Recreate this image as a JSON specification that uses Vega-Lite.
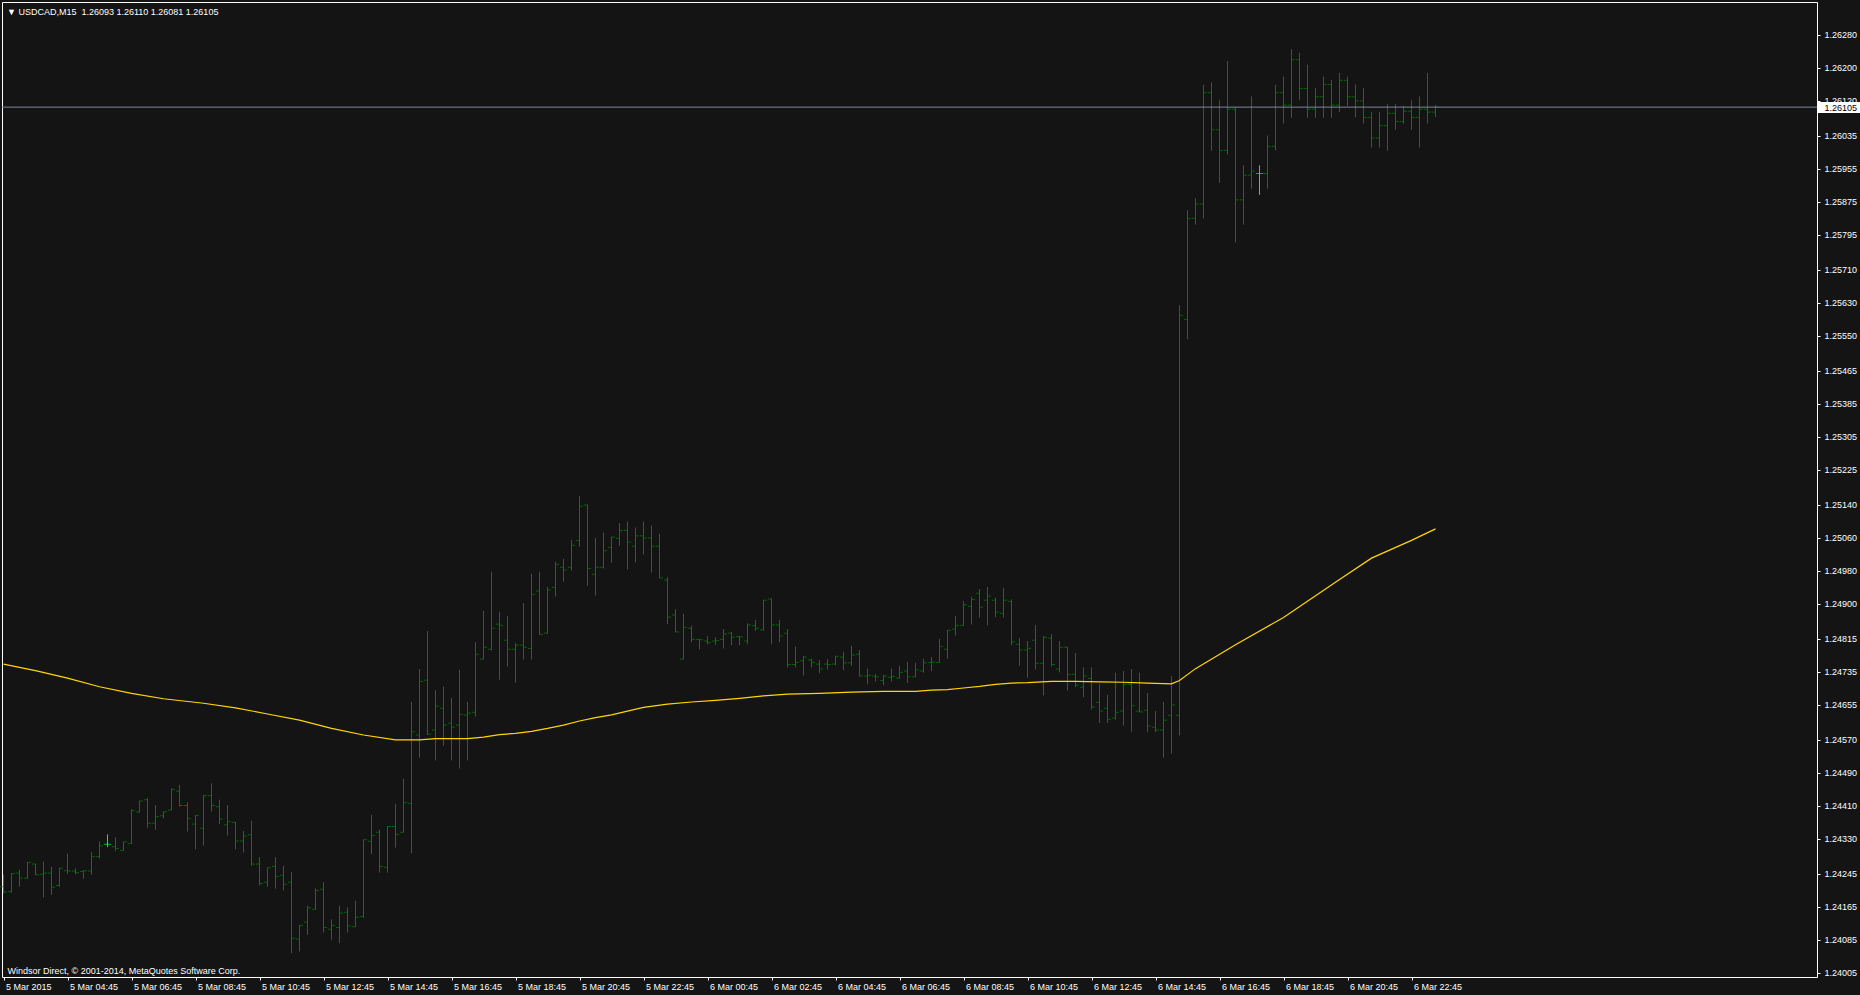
{
  "$schema": "https://vega.github.io/schema/vega-lite/v6.json",
  "width": 1815,
  "height": 975,
  "autosize": {"type": "none"},
  "padding": {"left": 2, "top": 2, "right": 43, "bottom": 18},
  "background": "#141414",
  "title": {
    "text": "▼ USDCAD,M15 \u00a01.26093 1.26110 1.26081 1.26105",
    "anchor": "start",
    "frame": "group",
    "orient": "top",
    "offset": 0,
    "baseline": "middle",
    "dx": 5,
    "dy": 19,
    "fontSize": 9,
    "fontWeight": "normal",
    "color": "#ffffff",
    "font": "Liberation Sans"
  },
  "datasets": {
    "price": [{"price": 1.26105}],
    "ma": [
      {"t": "2015-03-05T02:45:00Z", "ma": 1.24754},
      {"t": "2015-03-05T03:45:00Z", "ma": 1.24738},
      {"t": "2015-03-05T04:45:00Z", "ma": 1.24720},
      {"t": "2015-03-05T05:45:00Z", "ma": 1.24699},
      {"t": "2015-03-05T06:45:00Z", "ma": 1.24683},
      {"t": "2015-03-05T07:45:00Z", "ma": 1.24670},
      {"t": "2015-03-05T09:00:00Z", "ma": 1.24659},
      {"t": "2015-03-05T10:00:00Z", "ma": 1.24648},
      {"t": "2015-03-05T11:00:00Z", "ma": 1.24633},
      {"t": "2015-03-05T12:00:00Z", "ma": 1.24618},
      {"t": "2015-03-05T13:00:00Z", "ma": 1.24598},
      {"t": "2015-03-05T14:00:00Z", "ma": 1.24582},
      {"t": "2015-03-05T15:00:00Z", "ma": 1.24570},
      {"t": "2015-03-05T15:45:00Z", "ma": 1.24570},
      {"t": "2015-03-05T16:15:00Z", "ma": 1.24573},
      {"t": "2015-03-05T17:15:00Z", "ma": 1.24573},
      {"t": "2015-03-05T17:45:00Z", "ma": 1.24577},
      {"t": "2015-03-05T18:15:00Z", "ma": 1.24583},
      {"t": "2015-03-05T18:45:00Z", "ma": 1.24586},
      {"t": "2015-03-05T19:15:00Z", "ma": 1.24591},
      {"t": "2015-03-05T19:45:00Z", "ma": 1.24598},
      {"t": "2015-03-05T20:15:00Z", "ma": 1.24606},
      {"t": "2015-03-05T20:45:00Z", "ma": 1.24616},
      {"t": "2015-03-05T21:15:00Z", "ma": 1.24624},
      {"t": "2015-03-05T21:45:00Z", "ma": 1.24631},
      {"t": "2015-03-05T22:45:00Z", "ma": 1.24649},
      {"t": "2015-03-05T23:30:00Z", "ma": 1.24657},
      {"t": "2015-03-06T00:15:00Z", "ma": 1.24662},
      {"t": "2015-03-06T01:00:00Z", "ma": 1.24666},
      {"t": "2015-03-06T01:45:00Z", "ma": 1.24671},
      {"t": "2015-03-06T02:30:00Z", "ma": 1.24677},
      {"t": "2015-03-06T03:15:00Z", "ma": 1.24681},
      {"t": "2015-03-06T04:15:00Z", "ma": 1.24683},
      {"t": "2015-03-06T05:15:00Z", "ma": 1.24686},
      {"t": "2015-03-06T06:15:00Z", "ma": 1.24688},
      {"t": "2015-03-06T07:15:00Z", "ma": 1.24688},
      {"t": "2015-03-06T07:45:00Z", "ma": 1.24691},
      {"t": "2015-03-06T08:15:00Z", "ma": 1.24692},
      {"t": "2015-03-06T08:45:00Z", "ma": 1.24696},
      {"t": "2015-03-06T09:15:00Z", "ma": 1.24700},
      {"t": "2015-03-06T09:45:00Z", "ma": 1.24705},
      {"t": "2015-03-06T10:15:00Z", "ma": 1.24708},
      {"t": "2015-03-06T10:45:00Z", "ma": 1.24709},
      {"t": "2015-03-06T11:30:00Z", "ma": 1.24712},
      {"t": "2015-03-06T12:15:00Z", "ma": 1.24712},
      {"t": "2015-03-06T13:00:00Z", "ma": 1.24711},
      {"t": "2015-03-06T13:45:00Z", "ma": 1.24710},
      {"t": "2015-03-06T14:30:00Z", "ma": 1.24708},
      {"t": "2015-03-06T15:15:00Z", "ma": 1.24706},
      {"t": "2015-03-06T15:30:00Z", "ma": 1.24714},
      {"t": "2015-03-06T16:00:00Z", "ma": 1.24743},
      {"t": "2015-03-06T17:15:00Z", "ma": 1.24801},
      {"t": "2015-03-06T18:45:00Z", "ma": 1.24867},
      {"t": "2015-03-06T20:30:00Z", "ma": 1.24959},
      {"t": "2015-03-06T21:30:00Z", "ma": 1.25011},
      {"t": "2015-03-06T22:45:00Z", "ma": 1.25054},
      {"t": "2015-03-06T23:30:00Z", "ma": 1.25082}
    ],
    "bars": [
      {"t": "2015-03-05T02:45:00Z", "o": 1.24214, "h": 1.24243, "l": 1.24198, "c": 1.24201},
      {"t": "2015-03-05T03:00:00Z", "o": 1.24202, "h": 1.24247, "l": 1.24200, "c": 1.24246},
      {"t": "2015-03-05T03:15:00Z", "o": 1.24247, "h": 1.24255, "l": 1.24214, "c": 1.24235},
      {"t": "2015-03-05T03:30:00Z", "o": 1.24235, "h": 1.24274, "l": 1.24233, "c": 1.24273},
      {"t": "2015-03-05T03:45:00Z", "o": 1.24269, "h": 1.24270, "l": 1.24242, "c": 1.24243},
      {"t": "2015-03-05T04:00:00Z", "o": 1.24244, "h": 1.24275, "l": 1.24188, "c": 1.24247},
      {"t": "2015-03-05T04:15:00Z", "o": 1.24247, "h": 1.24262, "l": 1.24194, "c": 1.24213},
      {"t": "2015-03-05T04:30:00Z", "o": 1.24217, "h": 1.24260, "l": 1.24214, "c": 1.24259},
      {"t": "2015-03-05T04:45:00Z", "o": 1.24253, "h": 1.24294, "l": 1.24245, "c": 1.24252},
      {"t": "2015-03-05T05:00:00Z", "o": 1.24252, "h": 1.24259, "l": 1.24244, "c": 1.24248},
      {"t": "2015-03-05T05:15:00Z", "o": 1.24251, "h": 1.24254, "l": 1.24233, "c": 1.24253},
      {"t": "2015-03-05T05:30:00Z", "o": 1.24252, "h": 1.24298, "l": 1.24243, "c": 1.24287},
      {"t": "2015-03-05T05:45:00Z", "o": 1.24287, "h": 1.24324, "l": 1.24283, "c": 1.24313},
      {"t": "2015-03-05T06:00:00Z", "o": 1.24317, "h": 1.24341, "l": 1.24310, "c": 1.24317},
      {"t": "2015-03-05T06:15:00Z", "o": 1.24311, "h": 1.24334, "l": 1.24301, "c": 1.24307},
      {"t": "2015-03-05T06:30:00Z", "o": 1.24302, "h": 1.24324, "l": 1.24301, "c": 1.24323},
      {"t": "2015-03-05T06:45:00Z", "o": 1.24319, "h": 1.24402, "l": 1.24318, "c": 1.24399},
      {"t": "2015-03-05T07:00:00Z", "o": 1.24395, "h": 1.24423, "l": 1.24394, "c": 1.24422},
      {"t": "2015-03-05T07:15:00Z", "o": 1.24425, "h": 1.24429, "l": 1.24357, "c": 1.24368},
      {"t": "2015-03-05T07:30:00Z", "o": 1.24368, "h": 1.24412, "l": 1.24352, "c": 1.24384},
      {"t": "2015-03-05T07:45:00Z", "o": 1.24386, "h": 1.24397, "l": 1.24380, "c": 1.24396},
      {"t": "2015-03-05T08:00:00Z", "o": 1.24400, "h": 1.24453, "l": 1.24399, "c": 1.24450},
      {"t": "2015-03-05T08:15:00Z", "o": 1.24446, "h": 1.24461, "l": 1.24408, "c": 1.24411},
      {"t": "2015-03-05T08:30:00Z", "o": 1.24411, "h": 1.24419, "l": 1.24348, "c": 1.24380},
      {"t": "2015-03-05T08:45:00Z", "o": 1.24366, "h": 1.24388, "l": 1.24305, "c": 1.24387},
      {"t": "2015-03-05T09:00:00Z", "o": 1.24356, "h": 1.24437, "l": 1.24314, "c": 1.24435},
      {"t": "2015-03-05T09:15:00Z", "o": 1.24435, "h": 1.24465, "l": 1.24396, "c": 1.24411},
      {"t": "2015-03-05T09:30:00Z", "o": 1.24408, "h": 1.24425, "l": 1.24366, "c": 1.24378},
      {"t": "2015-03-05T09:45:00Z", "o": 1.24364, "h": 1.24412, "l": 1.24338, "c": 1.24372},
      {"t": "2015-03-05T10:00:00Z", "o": 1.24370, "h": 1.24371, "l": 1.24305, "c": 1.24325},
      {"t": "2015-03-05T10:15:00Z", "o": 1.24325, "h": 1.24349, "l": 1.24297, "c": 1.24337},
      {"t": "2015-03-05T10:30:00Z", "o": 1.24340, "h": 1.24374, "l": 1.24265, "c": 1.24269},
      {"t": "2015-03-05T10:45:00Z", "o": 1.24269, "h": 1.24286, "l": 1.24217, "c": 1.24222},
      {"t": "2015-03-05T11:00:00Z", "o": 1.24225, "h": 1.24261, "l": 1.24214, "c": 1.24260},
      {"t": "2015-03-05T11:15:00Z", "o": 1.24263, "h": 1.24286, "l": 1.24209, "c": 1.24239},
      {"t": "2015-03-05T11:30:00Z", "o": 1.24242, "h": 1.24265, "l": 1.24205, "c": 1.24220},
      {"t": "2015-03-05T11:45:00Z", "o": 1.24225, "h": 1.24250, "l": 1.24053, "c": 1.24089},
      {"t": "2015-03-05T12:00:00Z", "o": 1.24087, "h": 1.24121, "l": 1.24057, "c": 1.24120},
      {"t": "2015-03-05T12:15:00Z", "o": 1.24128, "h": 1.24168, "l": 1.24097, "c": 1.24163},
      {"t": "2015-03-05T12:30:00Z", "o": 1.24159, "h": 1.24210, "l": 1.24158, "c": 1.24205},
      {"t": "2015-03-05T12:45:00Z", "o": 1.24208, "h": 1.24225, "l": 1.24103, "c": 1.24115},
      {"t": "2015-03-05T13:00:00Z", "o": 1.24111, "h": 1.24135, "l": 1.24085, "c": 1.24120},
      {"t": "2015-03-05T13:15:00Z", "o": 1.24115, "h": 1.24168, "l": 1.24077, "c": 1.24150},
      {"t": "2015-03-05T13:30:00Z", "o": 1.24152, "h": 1.24164, "l": 1.24103, "c": 1.24119},
      {"t": "2015-03-05T13:45:00Z", "o": 1.24117, "h": 1.24180, "l": 1.24116, "c": 1.24140},
      {"t": "2015-03-05T14:00:00Z", "o": 1.24142, "h": 1.24329, "l": 1.24138, "c": 1.24328},
      {"t": "2015-03-05T14:15:00Z", "o": 1.24324, "h": 1.24388, "l": 1.24293, "c": 1.24338},
      {"t": "2015-03-05T14:30:00Z", "o": 1.24346, "h": 1.24352, "l": 1.24248, "c": 1.24263},
      {"t": "2015-03-05T14:45:00Z", "o": 1.24261, "h": 1.24361, "l": 1.24248, "c": 1.24360},
      {"t": "2015-03-05T15:00:00Z", "o": 1.24360, "h": 1.24415, "l": 1.24309, "c": 1.24341},
      {"t": "2015-03-05T15:15:00Z", "o": 1.24346, "h": 1.24476, "l": 1.24345, "c": 1.24418},
      {"t": "2015-03-05T15:30:00Z", "o": 1.24416, "h": 1.24662, "l": 1.24295, "c": 1.24590},
      {"t": "2015-03-05T15:45:00Z", "o": 1.24582, "h": 1.24742, "l": 1.24527, "c": 1.24712},
      {"t": "2015-03-05T16:00:00Z", "o": 1.24715, "h": 1.24834, "l": 1.24582, "c": 1.24584},
      {"t": "2015-03-05T16:15:00Z", "o": 1.24594, "h": 1.24691, "l": 1.24520, "c": 1.24652},
      {"t": "2015-03-05T16:30:00Z", "o": 1.24647, "h": 1.24699, "l": 1.24556, "c": 1.24606},
      {"t": "2015-03-05T16:45:00Z", "o": 1.24611, "h": 1.24672, "l": 1.24520, "c": 1.24601},
      {"t": "2015-03-05T17:00:00Z", "o": 1.24606, "h": 1.24740, "l": 1.24501, "c": 1.24632},
      {"t": "2015-03-05T17:15:00Z", "o": 1.24630, "h": 1.24662, "l": 1.24520, "c": 1.24635},
      {"t": "2015-03-05T17:30:00Z", "o": 1.24637, "h": 1.24807, "l": 1.24627, "c": 1.24778},
      {"t": "2015-03-05T17:45:00Z", "o": 1.24766, "h": 1.24883, "l": 1.24765, "c": 1.24795},
      {"t": "2015-03-05T18:00:00Z", "o": 1.24790, "h": 1.24978, "l": 1.24787, "c": 1.24841},
      {"t": "2015-03-05T18:15:00Z", "o": 1.24851, "h": 1.24881, "l": 1.24716, "c": 1.24848},
      {"t": "2015-03-05T18:30:00Z", "o": 1.24812, "h": 1.24871, "l": 1.24748, "c": 1.24790},
      {"t": "2015-03-05T18:45:00Z", "o": 1.24790, "h": 1.24805, "l": 1.24709, "c": 1.24800},
      {"t": "2015-03-05T19:00:00Z", "o": 1.24800, "h": 1.24902, "l": 1.24765, "c": 1.24795},
      {"t": "2015-03-05T19:15:00Z", "o": 1.24792, "h": 1.24973, "l": 1.24765, "c": 1.24923},
      {"t": "2015-03-05T19:30:00Z", "o": 1.24931, "h": 1.24978, "l": 1.24825, "c": 1.24826},
      {"t": "2015-03-05T19:45:00Z", "o": 1.24829, "h": 1.24941, "l": 1.24828, "c": 1.24934},
      {"t": "2015-03-05T20:00:00Z", "o": 1.24940, "h": 1.25002, "l": 1.24918, "c": 1.24996},
      {"t": "2015-03-05T20:15:00Z", "o": 1.24989, "h": 1.25009, "l": 1.24954, "c": 1.24982},
      {"t": "2015-03-05T20:30:00Z", "o": 1.24989, "h": 1.25055, "l": 1.24981, "c": 1.25042},
      {"t": "2015-03-05T20:45:00Z", "o": 1.25054, "h": 1.25162, "l": 1.25039, "c": 1.25137},
      {"t": "2015-03-05T21:00:00Z", "o": 1.25140, "h": 1.25141, "l": 1.24944, "c": 1.24986},
      {"t": "2015-03-05T21:15:00Z", "o": 1.24972, "h": 1.25060, "l": 1.24920, "c": 1.24989},
      {"t": "2015-03-05T21:30:00Z", "o": 1.24989, "h": 1.25073, "l": 1.24986, "c": 1.25029},
      {"t": "2015-03-05T21:45:00Z", "o": 1.25037, "h": 1.25063, "l": 1.25000, "c": 1.25062},
      {"t": "2015-03-05T22:00:00Z", "o": 1.25059, "h": 1.25096, "l": 1.25041, "c": 1.25078},
      {"t": "2015-03-05T22:15:00Z", "o": 1.25078, "h": 1.25100, "l": 1.24984, "c": 1.25050},
      {"t": "2015-03-05T22:30:00Z", "o": 1.25040, "h": 1.25085, "l": 1.25001, "c": 1.25065},
      {"t": "2015-03-05T22:45:00Z", "o": 1.25065, "h": 1.25100, "l": 1.25020, "c": 1.25060},
      {"t": "2015-03-05T23:00:00Z", "o": 1.25060, "h": 1.25090, "l": 1.24976, "c": 1.25040},
      {"t": "2015-03-05T23:15:00Z", "o": 1.25040, "h": 1.25070, "l": 1.24962, "c": 1.24963},
      {"t": "2015-03-05T23:30:00Z", "o": 1.24958, "h": 1.24965, "l": 1.24851, "c": 1.24868},
      {"t": "2015-03-05T23:45:00Z", "o": 1.24873, "h": 1.24887, "l": 1.24831, "c": 1.24832},
      {"t": "2015-03-06T00:00:00Z", "o": 1.24766, "h": 1.24876, "l": 1.24765, "c": 1.24843},
      {"t": "2015-03-06T00:15:00Z", "o": 1.24841, "h": 1.24847, "l": 1.24807, "c": 1.24814},
      {"t": "2015-03-06T00:30:00Z", "o": 1.24814, "h": 1.24815, "l": 1.24790, "c": 1.24813},
      {"t": "2015-03-06T00:45:00Z", "o": 1.24810, "h": 1.24822, "l": 1.24802, "c": 1.24806},
      {"t": "2015-03-06T01:00:00Z", "o": 1.24810, "h": 1.24819, "l": 1.24801, "c": 1.24811},
      {"t": "2015-03-06T01:15:00Z", "o": 1.24814, "h": 1.24839, "l": 1.24792, "c": 1.24827},
      {"t": "2015-03-06T01:30:00Z", "o": 1.24829, "h": 1.24832, "l": 1.24800, "c": 1.24819},
      {"t": "2015-03-06T01:45:00Z", "o": 1.24821, "h": 1.24822, "l": 1.24800, "c": 1.24820},
      {"t": "2015-03-06T02:00:00Z", "o": 1.24810, "h": 1.24853, "l": 1.24802, "c": 1.24849},
      {"t": "2015-03-06T02:15:00Z", "o": 1.24847, "h": 1.24861, "l": 1.24835, "c": 1.24841},
      {"t": "2015-03-06T02:30:00Z", "o": 1.24837, "h": 1.24910, "l": 1.24835, "c": 1.24909},
      {"t": "2015-03-06T02:45:00Z", "o": 1.24912, "h": 1.24913, "l": 1.24802, "c": 1.24849},
      {"t": "2015-03-06T03:00:00Z", "o": 1.24849, "h": 1.24861, "l": 1.24807, "c": 1.24822},
      {"t": "2015-03-06T03:15:00Z", "o": 1.24829, "h": 1.24839, "l": 1.24746, "c": 1.24753},
      {"t": "2015-03-06T03:30:00Z", "o": 1.24753, "h": 1.24796, "l": 1.24746, "c": 1.24758},
      {"t": "2015-03-06T03:45:00Z", "o": 1.24762, "h": 1.24774, "l": 1.24726, "c": 1.24771},
      {"t": "2015-03-06T04:00:00Z", "o": 1.24764, "h": 1.24767, "l": 1.24746, "c": 1.24758},
      {"t": "2015-03-06T04:15:00Z", "o": 1.24754, "h": 1.24764, "l": 1.24732, "c": 1.24742},
      {"t": "2015-03-06T04:30:00Z", "o": 1.24754, "h": 1.24766, "l": 1.24741, "c": 1.24753},
      {"t": "2015-03-06T04:45:00Z", "o": 1.24754, "h": 1.24774, "l": 1.24751, "c": 1.24773},
      {"t": "2015-03-06T05:00:00Z", "o": 1.24771, "h": 1.24784, "l": 1.24739, "c": 1.24757},
      {"t": "2015-03-06T05:15:00Z", "o": 1.24757, "h": 1.24798, "l": 1.24750, "c": 1.24776},
      {"t": "2015-03-06T05:30:00Z", "o": 1.24778, "h": 1.24788, "l": 1.24724, "c": 1.24725},
      {"t": "2015-03-06T05:45:00Z", "o": 1.24725, "h": 1.24743, "l": 1.24705, "c": 1.24727},
      {"t": "2015-03-06T06:00:00Z", "o": 1.24725, "h": 1.24730, "l": 1.24712, "c": 1.24723},
      {"t": "2015-03-06T06:15:00Z", "o": 1.24714, "h": 1.24728, "l": 1.24703, "c": 1.24725},
      {"t": "2015-03-06T06:30:00Z", "o": 1.24722, "h": 1.24743, "l": 1.24712, "c": 1.24724},
      {"t": "2015-03-06T06:45:00Z", "o": 1.24720, "h": 1.24750, "l": 1.24719, "c": 1.24734},
      {"t": "2015-03-06T07:00:00Z", "o": 1.24737, "h": 1.24759, "l": 1.24708, "c": 1.24723},
      {"t": "2015-03-06T07:15:00Z", "o": 1.24723, "h": 1.24757, "l": 1.24722, "c": 1.24740},
      {"t": "2015-03-06T07:30:00Z", "o": 1.24737, "h": 1.24767, "l": 1.24733, "c": 1.24757},
      {"t": "2015-03-06T07:45:00Z", "o": 1.24758, "h": 1.24771, "l": 1.24737, "c": 1.24759},
      {"t": "2015-03-06T08:00:00Z", "o": 1.24758, "h": 1.24815, "l": 1.24757, "c": 1.24797},
      {"t": "2015-03-06T08:15:00Z", "o": 1.24790, "h": 1.24837, "l": 1.24767, "c": 1.24836},
      {"t": "2015-03-06T08:30:00Z", "o": 1.24839, "h": 1.24871, "l": 1.24823, "c": 1.24848},
      {"t": "2015-03-06T08:45:00Z", "o": 1.24848, "h": 1.24907, "l": 1.24847, "c": 1.24898},
      {"t": "2015-03-06T09:00:00Z", "o": 1.24894, "h": 1.24917, "l": 1.24850, "c": 1.24911},
      {"t": "2015-03-06T09:15:00Z", "o": 1.24926, "h": 1.24936, "l": 1.24867, "c": 1.24892},
      {"t": "2015-03-06T09:30:00Z", "o": 1.24909, "h": 1.24941, "l": 1.24848, "c": 1.24919},
      {"t": "2015-03-06T09:45:00Z", "o": 1.24909, "h": 1.24915, "l": 1.24868, "c": 1.24880},
      {"t": "2015-03-06T10:00:00Z", "o": 1.24877, "h": 1.24939, "l": 1.24867, "c": 1.24909},
      {"t": "2015-03-06T10:15:00Z", "o": 1.24906, "h": 1.24911, "l": 1.24800, "c": 1.24808},
      {"t": "2015-03-06T10:30:00Z", "o": 1.24802, "h": 1.24817, "l": 1.24750, "c": 1.24788},
      {"t": "2015-03-06T10:45:00Z", "o": 1.24788, "h": 1.24810, "l": 1.24721, "c": 1.24792},
      {"t": "2015-03-06T11:00:00Z", "o": 1.24812, "h": 1.24849, "l": 1.24741, "c": 1.24756},
      {"t": "2015-03-06T11:15:00Z", "o": 1.24756, "h": 1.24822, "l": 1.24678, "c": 1.24819},
      {"t": "2015-03-06T11:30:00Z", "o": 1.24817, "h": 1.24827, "l": 1.24748, "c": 1.24753},
      {"t": "2015-03-06T11:45:00Z", "o": 1.24742, "h": 1.24810, "l": 1.24734, "c": 1.24795},
      {"t": "2015-03-06T12:00:00Z", "o": 1.24795, "h": 1.24796, "l": 1.24690, "c": 1.24729},
      {"t": "2015-03-06T12:15:00Z", "o": 1.24729, "h": 1.24781, "l": 1.24698, "c": 1.24703},
      {"t": "2015-03-06T12:30:00Z", "o": 1.24698, "h": 1.24746, "l": 1.24674, "c": 1.24725},
      {"t": "2015-03-06T12:45:00Z", "o": 1.24719, "h": 1.24746, "l": 1.24644, "c": 1.24650},
      {"t": "2015-03-06T13:00:00Z", "o": 1.24661, "h": 1.24706, "l": 1.24611, "c": 1.24640},
      {"t": "2015-03-06T13:15:00Z", "o": 1.24647, "h": 1.24679, "l": 1.24611, "c": 1.24620},
      {"t": "2015-03-06T13:30:00Z", "o": 1.24623, "h": 1.24733, "l": 1.24619, "c": 1.24637},
      {"t": "2015-03-06T13:45:00Z", "o": 1.24640, "h": 1.24737, "l": 1.24605, "c": 1.24705},
      {"t": "2015-03-06T14:00:00Z", "o": 1.24705, "h": 1.24742, "l": 1.24590, "c": 1.24653},
      {"t": "2015-03-06T14:15:00Z", "o": 1.24640, "h": 1.24733, "l": 1.24637, "c": 1.24638},
      {"t": "2015-03-06T14:30:00Z", "o": 1.24642, "h": 1.24684, "l": 1.24589, "c": 1.24604},
      {"t": "2015-03-06T14:45:00Z", "o": 1.24601, "h": 1.24640, "l": 1.24589, "c": 1.24594},
      {"t": "2015-03-06T15:00:00Z", "o": 1.24594, "h": 1.24662, "l": 1.24527, "c": 1.24618},
      {"t": "2015-03-06T15:15:00Z", "o": 1.24630, "h": 1.24725, "l": 1.24537, "c": 1.24655},
      {"t": "2015-03-06T15:30:00Z", "o": 1.24630, "h": 1.25625, "l": 1.24581, "c": 1.25600},
      {"t": "2015-03-06T15:45:00Z", "o": 1.25590, "h": 1.25855, "l": 1.25542, "c": 1.25835},
      {"t": "2015-03-06T16:00:00Z", "o": 1.25835, "h": 1.25884, "l": 1.25820, "c": 1.25870},
      {"t": "2015-03-06T16:15:00Z", "o": 1.25870, "h": 1.26159, "l": 1.25835, "c": 1.26140},
      {"t": "2015-03-06T16:30:00Z", "o": 1.26140, "h": 1.26165, "l": 1.25999, "c": 1.26050},
      {"t": "2015-03-06T16:45:00Z", "o": 1.26050, "h": 1.26122, "l": 1.25921, "c": 1.26000},
      {"t": "2015-03-06T17:00:00Z", "o": 1.26000, "h": 1.26217, "l": 1.25990, "c": 1.26100},
      {"t": "2015-03-06T17:15:00Z", "o": 1.26100, "h": 1.26105, "l": 1.25777, "c": 1.25880},
      {"t": "2015-03-06T17:30:00Z", "o": 1.25880, "h": 1.25964, "l": 1.25820, "c": 1.25940},
      {"t": "2015-03-06T17:45:00Z", "o": 1.25940, "h": 1.26131, "l": 1.25907, "c": 1.25950},
      {"t": "2015-03-06T18:00:00Z", "o": 1.25944, "h": 1.25964, "l": 1.25892, "c": 1.25944},
      {"t": "2015-03-06T18:15:00Z", "o": 1.25944, "h": 1.26036, "l": 1.25907, "c": 1.26010},
      {"t": "2015-03-06T18:30:00Z", "o": 1.26010, "h": 1.26159, "l": 1.26000, "c": 1.26140},
      {"t": "2015-03-06T18:45:00Z", "o": 1.26140, "h": 1.26179, "l": 1.26065, "c": 1.26110},
      {"t": "2015-03-06T19:00:00Z", "o": 1.26110, "h": 1.26246, "l": 1.26079, "c": 1.26220},
      {"t": "2015-03-06T19:15:00Z", "o": 1.26220, "h": 1.26237, "l": 1.26122, "c": 1.26150},
      {"t": "2015-03-06T19:30:00Z", "o": 1.26150, "h": 1.26208, "l": 1.26079, "c": 1.26100},
      {"t": "2015-03-06T19:45:00Z", "o": 1.26100, "h": 1.26151, "l": 1.26079, "c": 1.26130},
      {"t": "2015-03-06T20:00:00Z", "o": 1.26130, "h": 1.26179, "l": 1.26079, "c": 1.26160},
      {"t": "2015-03-06T20:15:00Z", "o": 1.26160, "h": 1.26171, "l": 1.26079, "c": 1.26110},
      {"t": "2015-03-06T20:30:00Z", "o": 1.26110, "h": 1.26188, "l": 1.26093, "c": 1.26170},
      {"t": "2015-03-06T20:45:00Z", "o": 1.26170, "h": 1.26179, "l": 1.26108, "c": 1.26130},
      {"t": "2015-03-06T21:00:00Z", "o": 1.26130, "h": 1.26160, "l": 1.26080, "c": 1.26120},
      {"t": "2015-03-06T21:15:00Z", "o": 1.26120, "h": 1.26151, "l": 1.26065, "c": 1.26080},
      {"t": "2015-03-06T21:30:00Z", "o": 1.26080, "h": 1.26093, "l": 1.26007, "c": 1.26030},
      {"t": "2015-03-06T21:45:00Z", "o": 1.26030, "h": 1.26093, "l": 1.26007, "c": 1.26060},
      {"t": "2015-03-06T22:00:00Z", "o": 1.26060, "h": 1.26113, "l": 1.25999, "c": 1.26090},
      {"t": "2015-03-06T22:15:00Z", "o": 1.26090, "h": 1.26113, "l": 1.26050, "c": 1.26070},
      {"t": "2015-03-06T22:30:00Z", "o": 1.26070, "h": 1.26108, "l": 1.26065, "c": 1.26095},
      {"t": "2015-03-06T22:45:00Z", "o": 1.26095, "h": 1.26122, "l": 1.26050, "c": 1.26080},
      {"t": "2015-03-06T23:00:00Z", "o": 1.26080, "h": 1.26131, "l": 1.26007, "c": 1.26100},
      {"t": "2015-03-06T23:15:00Z", "o": 1.26100, "h": 1.26188, "l": 1.26065, "c": 1.26093},
      {"t": "2015-03-06T23:30:00Z", "o": 1.26093, "h": 1.26110, "l": 1.26081, "c": 1.26105}
    ]
  },
  "resolve": {"axis": {"y": "independent"}},
  "layer": [
    {
      "data": {"name": "bars"},
      "mark": {"type": "rule", "strokeWidth": 1},
      "encoding": {
        "x": {
          "field": "t",
          "type": "temporal",
          "scale": {"type": "utc", "domain": [1425523331250, 1425727518750]},
          "axis": {
            "values": [1425523500000, 1425530700000, 1425537900000, 1425545100000, 1425552300000, 1425559500000, 1425566700000, 1425573900000, 1425581100000, 1425588300000, 1425595500000, 1425602700000, 1425609900000, 1425617100000, 1425624300000, 1425631500000, 1425638700000, 1425645900000, 1425653100000, 1425660300000, 1425667500000, 1425674700000, 1425681900000],
            "labelExpr": "datum.index == 0 ? '5 Mar 2015' : utcFormat(datum.value, '%-d %b %H:%M')",
            "labelAlign": "left",
            "labelBaseline": "top",
            "labelOffset": 2,
            "labelPadding": 2,
            "labelFlush": false,
            "labelOverlap": false,
            "tickSize": 3,
            "title": "Windsor Direct, © 2001-2014, MetaQuotes Software Corp.",
            "titleAnchor": "start",
            "titleAlign": "left",
            "titleX": 5,
            "titleY": -7,
            "titleBaseline": "middle",
            "titleFontWeight": "normal",
            "titleFontSize": 9,
            "titleColor": "#ffffff",
            "titleFont": "Liberation Sans"
          }
        },
        "y": {
          "field": "l",
          "type": "quantitative",
          "scale": {"domain": [1.23995, 1.2636], "nice": false, "zero": false},
          "axis": {
            "orient": "right",
            "title": null,
            "values": [1.2628, 1.262, 1.2612, 1.26035, 1.25955, 1.25875, 1.25795, 1.2571, 1.2563, 1.2555, 1.25465, 1.25385, 1.25305, 1.25225, 1.2514, 1.2506, 1.2498, 1.249, 1.24815, 1.24735, 1.24655, 1.2457, 1.2449, 1.2441, 1.2433, 1.24245, 1.24165, 1.24085, 1.24005],
            "format": ".5f",
            "labelOverlap": false,
            "tickSize": 3,
            "labelPadding": 4
          }
        },
        "y2": {"field": "h"},
        "color": {"condition": {"test": "datum.o == datum.c", "value": "#00ff00"}, "value": "#008000"}
      }
    },
    {
      "data": {"name": "bars"},
      "mark": {"type": "tick", "orient": "horizontal", "size": 3, "thickness": 1, "xOffset": -2},
      "encoding": {
        "x": {"field": "t", "type": "temporal"},
        "y": {"field": "o", "type": "quantitative", "axis": null},
        "color": {"condition": {"test": "datum.o == datum.c", "value": "#00ff00"}, "value": "#008000"}
      }
    },
    {
      "data": {"name": "bars"},
      "mark": {"type": "tick", "orient": "horizontal", "size": 3, "thickness": 1, "xOffset": 2},
      "encoding": {
        "x": {"field": "t", "type": "temporal"},
        "y": {"field": "c", "type": "quantitative", "axis": null},
        "color": {"condition": {"test": "datum.o == datum.c", "value": "#00ff00"}, "value": "#008000"}
      }
    },
    {
      "data": {"name": "ma"},
      "mark": {"type": "line", "color": "#ffd700", "strokeWidth": 1.2},
      "encoding": {
        "x": {"field": "t", "type": "temporal"},
        "y": {"field": "ma", "type": "quantitative", "axis": null}
      }
    },
    {
      "data": {"name": "price"},
      "mark": {"type": "rule", "color": "#778899", "strokeWidth": 1},
      "encoding": {
        "y": {
          "field": "price",
          "type": "quantitative",
          "axis": {
            "orient": "right",
            "title": null,
            "values": [1.26105],
            "format": ".5f",
            "tickSize": 43,
            "tickWidth": 11,
            "tickColor": "#ffffff",
            "labelPadding": -36,
            "labelColor": "#000000",
            "labelOverlap": false
          }
        }
      }
    }
  ],
  "config": {
    "font": "Liberation Sans",
    "view": {"stroke": "#ffffff", "strokeWidth": 1},
    "axis": {
      "domain": false,
      "grid": false,
      "labelOverlap": false,
      "tickColor": "#ffffff",
      "labelColor": "#ffffff",
      "labelFont": "Liberation Sans",
      "labelFontSize": 9
    }
  }
}
